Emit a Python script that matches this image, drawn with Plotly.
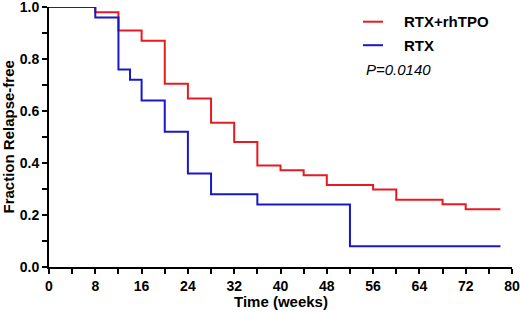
import plotly.graph_objects as go

# Kaplan-Meier style step data (weeks, fraction relapse-free)
red_name = "RTX+rhTPO"
red_time = [0, 8, 12, 16, 20, 24, 28, 32, 36, 40, 44, 48, 56, 60, 68, 72, 78]
red_frac = [1.0, 0.98, 0.91, 0.87, 0.705, 0.648, 0.555, 0.481, 0.39, 0.372, 0.353, 0.315, 0.298, 0.259, 0.241, 0.222, 0.222]

blue_name = "RTX"
blue_time = [0, 8, 12, 14, 16, 20, 24, 28, 36, 52, 78]
blue_frac = [1.0, 0.96, 0.76, 0.72, 0.64, 0.52, 0.36, 0.28, 0.24, 0.08, 0.08]

p_text = "P=0.0140"
x_title = "Time (weeks)"
y_title = "Fraction Relapse-free"
x_ticks = [0, 8, 16, 24, 32, 40, 48, 56, 64, 72, 80]
y_ticks = [0.0, 0.2, 0.4, 0.6, 0.8, 1.0]

RED = "#e51b22"
BLUE = "#1818c8"
FONT = "Liberation Sans"

L, R, T, B = 49, 8, 7, 45
W, H = 520, 312
PW, PH = W - L - R, H - T - B

def px_x(p):
    return (p - L) / PW

def px_y(p):
    return 1 - (p - T) / PH

fig = go.Figure()
fig.add_trace(go.Scatter(x=red_time, y=red_frac, mode="lines", line=dict(shape="hv", color=RED, width=2),
                         name=red_name, showlegend=False, cliponaxis=False))
fig.add_trace(go.Scatter(x=blue_time, y=blue_frac, mode="lines", line=dict(shape="hv", color=BLUE, width=2),
                         name=blue_name, showlegend=False, cliponaxis=False))

axis_common = dict(showgrid=False, zeroline=False, showline=True, linecolor="black", linewidth=2,
                   ticks="outside", ticklen=5, tickwidth=2, tickcolor="black", automargin=False,
                   tickfont=dict(family=FONT, size=14, color="black", weight="bold"))

fig.update_xaxes(range=[0, 80], tickvals=x_ticks, ticktext=[str(v) for v in x_ticks],
                 minor=dict(dtick=4, tick0=0, ticks="outside", ticklen=5, tickwidth=2, tickcolor="black"),
                 ticklabeloverflow="allow",
                 **axis_common)
fig.update_yaxes(range=[0, 1.0], tickvals=y_ticks, ticktext=[f"{v:.1f}" for v in y_ticks],
                 minor=dict(dtick=0.1, tick0=0, ticks="outside", ticklen=5, tickwidth=2, tickcolor="black"),
                 ticklabeloverflow="allow",
                 **axis_common)

# Axis titles as annotations
fig.add_annotation(xref="paper", yref="paper", x=px_x(280.5), y=px_y(301.5), text=x_title,
                   showarrow=False, xanchor="center", yanchor="middle",
                   font=dict(family=FONT, size=15, color="black", weight="bold"))
fig.add_annotation(xref="paper", yref="paper", x=px_x(7.5), y=px_y(137), text=y_title, textangle=-90,
                   showarrow=False, xanchor="center", yanchor="middle",
                   font=dict(family=FONT, size=15, color="black", weight="bold"))

# Manual legend
for i, (nm, col) in enumerate([(red_name, RED), (blue_name, BLUE)]):
    yy = 21.7 + i * 23.5
    fig.add_shape(type="line", xref="paper", yref="paper",
                  x0=px_x(363), x1=px_x(383), y0=px_y(yy), y1=px_y(yy),
                  line=dict(color=col, width=2))
    fig.add_annotation(xref="paper", yref="paper", x=px_x(402), y=px_y(yy),
                       text=nm, showarrow=False, xanchor="left", yanchor="middle",
                       font=dict(family=FONT, size=15, color="black", weight="bold"))
fig.add_annotation(xref="paper", yref="paper", x=px_x(364), y=px_y(69), text=p_text,
                   showarrow=False, xanchor="left", yanchor="middle",
                   font=dict(family=FONT, size=15, color="black", style="italic"))

fig.update_layout(width=W, height=H, margin=dict(l=L, r=R, t=T, b=B),
                  plot_bgcolor="white", paper_bgcolor="white")
fig.write_html("out.html", config={"displayModeBar": False},
               post_script="document.body.style.margin='0';document.body.style.overflow='hidden';")
